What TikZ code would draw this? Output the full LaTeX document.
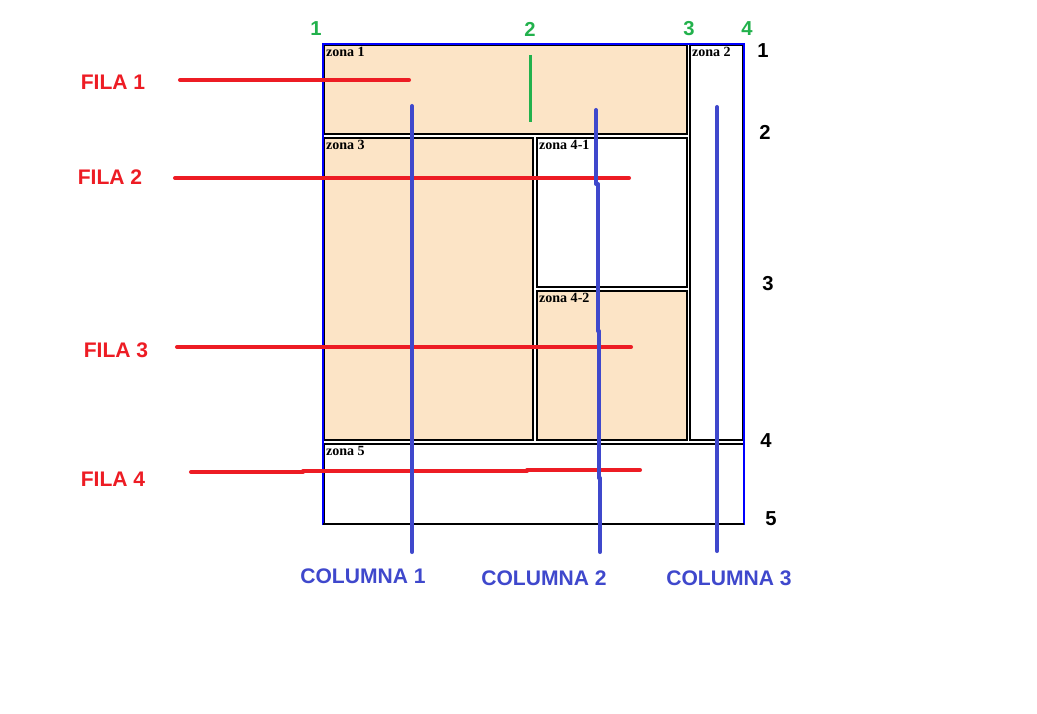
\documentclass[tikz,border=0pt]{standalone}
\usepackage{fontspec}
\setmainfont{Liberation Serif}
\setsansfont{Liberation Sans}
\definecolor{zonafill}{HTML}{FCE4C6}
\definecolor{filared}{HTML}{ED1C24}
\definecolor{colblue}{HTML}{3F48CC}
\definecolor{numgreen}{HTML}{22B14C}
\definecolor{marcoblue}{HTML}{0000FF}

\begin{document}
\begin{tikzpicture}[x=0.02cm, y=-0.02cm,
  zona/.style={draw=black, line width=0.6pt},
  zonalab/.style={anchor=north west, inner sep=1pt, font=\fontsize{8}{9}\selectfont\bfseries},
  fila/.style={filared, line width=2.3pt, line cap=round},
  columna/.style={colblue, line width=2.3pt, line cap=round},
  rotulo/.style={font=\fontsize{12}{14}\selectfont\sffamily\bfseries},
  numlab/.style={font=\fontsize{11.5}{13}\selectfont\sffamily\bfseries}]

\useasboundingbox (0,0) rectangle (1037,713);

%=== Zonas ===
\foreach \xa/\ya/\xb/\yb/\col/\nm/\lab in {
    324/45/687/134/zonafill/z1/{zona 1},
    690/45/743/440/white/z2/{zona 2},
    324/138/533/440/zonafill/z3/{zona 3},
    537/138/687/287/white/z41/{zona 4-1},
    537/291/687/440/zonafill/z42/{zona 4-2},
    324/444/744/524/white/z5/{zona 5}}{
  \draw[zona, fill=\col] (\xa,\ya) rectangle (\xb,\yb);
  \node[zonalab] (\nm) at (\xa,\ya) {\lab};
}

%=== Marco exterior ===
\draw[marcoblue, line width=1.1pt] (323,44) rectangle (744,524);
\draw[zona] (323,524) -- (744,524);

% linea verde
\draw[numgreen, line width=1.7pt] (530,55) -- (530,122);

%=== Numeros de lineas ===
\foreach \x/\n in {316/1, 530/2, 689/3, 747/4}
  \node[numlab, numgreen] (g\n) at (\x,29) {\n};
\foreach \y/\x/\n in {51/763/1, 132/765/2, 284/768/3, 441/766/4, 519/771/5}
  \node[numlab] (r\n) at (\x,\y) {\n};

%=== Filas ===
\draw[fila] (180,80) -- (409,80);
\draw[fila] (175,178) -- (629,178);
\draw[fila] (177,347) -- (631,347);
\draw[fila] (191,472) -- (303,472);
\draw[fila] (303,471) -- (527,471);
\draw[fila] (527,470) -- (640,470);

\foreach \x/\y/\n in {113/82/1, 110/177/2, 116/350/3, 113/479/4}
  \node[rotulo, filared] (f\n) at (\x,\y) {FILA \n};

%=== Columnas ===
\draw[columna] (412,106) -- (412,552);
\draw[columna] (596,110) -- (596,184);
\draw[columna] (598,184) -- (598,331);
\draw[columna] (599,331) -- (599,478);
\draw[columna] (600,478) -- (600,552);
\draw[columna] (717,107) -- (717,551);

\foreach \x/\y/\n in {363/576/1, 544/578/2, 729/578/3}
  \node[rotulo, colblue] (c\n) at (\x,\y) {COLUMNA \n};

\end{tikzpicture}
\end{document}
